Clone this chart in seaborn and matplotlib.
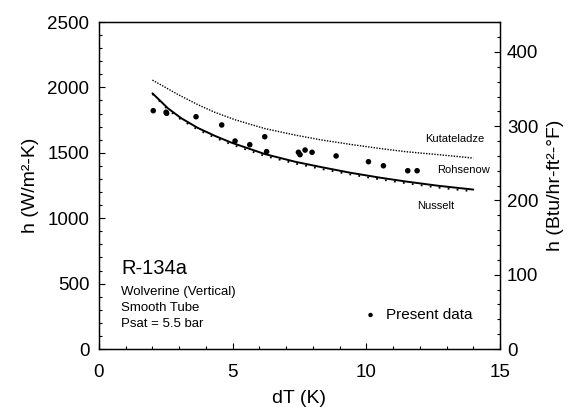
import numpy as np
import pandas as pd
import matplotlib
matplotlib.use("Agg")
import matplotlib.pyplot as plt
from matplotlib.ticker import MultipleLocator
import seaborn as sns

# measured data, dT (K) vs h (W/m2-K)
data_dT = [2.03, 2.51, 2.53, 3.63, 4.59, 5.09, 5.64, 6.20, 6.27, 7.46, 7.52, 7.71,
           7.97, 8.87, 10.08, 10.64, 11.55, 11.90]
data_h = [1822, 1810, 1802, 1776, 1713, 1590, 1562, 1623, 1509, 1504, 1486, 1521,
          1504, 1476, 1432, 1401, 1363, 1363]

# correlations
kut_dT = [2.0, 2.96, 3.70, 4.33, 5.1, 6.21, 7.33, 8.33, 9.39, 10.51, 11.5, 12.69, 14.0]
kut_h = [2056, 1945, 1868, 1810, 1752, 1685, 1636, 1598, 1565, 1533, 1508, 1486, 1460]
roh_dT = [2.0, 2.58, 3.08, 3.70, 4.33, 4.95, 6.21, 7.33, 8.33, 9.39, 10.51, 11.5, 12.69, 14.0]
roh_h = [1955, 1840, 1764, 1690, 1630, 1578, 1490, 1432, 1390, 1348, 1310, 1280, 1248, 1219]
nus_dT = [2.0, 2.58, 3.08, 3.70, 4.33, 4.95, 6.21, 7.33, 8.33, 9.39, 10.51, 11.5, 12.69, 14.0]
nus_h = [1950, 1830, 1752, 1677, 1617, 1564, 1476, 1418, 1376, 1335, 1297, 1267, 1234, 1205]

W_PER_BTU = 5.678

sns.set_style("ticks")
plt.rcParams['font.family'] = ['Liberation Sans', 'DejaVu Sans']
plt.rcParams['text.color'] = 'black'
plt.rcParams['axes.labelcolor'] = 'black'
plt.rcParams['xtick.color'] = 'black'
plt.rcParams['ytick.color'] = 'black'
plt.rcParams['axes.edgecolor'] = 'black'

fig = plt.figure(figsize=(5.83, 4.07), dpi=100)
ax = fig.add_axes([0.1698, 0.1425, 0.6878, 0.8034])

sns.lineplot(x=kut_dT, y=kut_h, ax=ax, color='black', lw=1.0,
             linestyle=(0, (1, 1)))
sns.lineplot(x=roh_dT, y=roh_h, ax=ax, color='black', lw=1.4)
sns.lineplot(x=nus_dT, y=nus_h, ax=ax, color='black', lw=1.3,
             linestyle=(0, (1, 4)))
sns.scatterplot(x=data_dT, y=data_h, ax=ax, color='black', s=16,
                edgecolor='none', label='Present data')

ax.set_xlim(0, 15)
ax.set_ylim(0, 2500)
ax.xaxis.set_major_locator(MultipleLocator(5))
ax.xaxis.set_minor_locator(MultipleLocator(1))
ax.yaxis.set_major_locator(MultipleLocator(500))
ax.yaxis.set_minor_locator(MultipleLocator(100))
ax.tick_params(which='both', direction='in', labelsize=13.5, width=0.8, pad=7)
ax.tick_params(axis='x', which='both', pad=11)
ax.tick_params(which='major', length=4)
ax.tick_params(which='minor', length=2.5)
for s in ax.spines.values():
    s.set_linewidth(0.9)

ax.set_xlabel('dT (K)', fontsize=14, labelpad=6)
ax.set_ylabel('h (W/m²-K)', fontsize=14, labelpad=6)

ax2 = ax.twinx()
ax2.set_ylim(0, 2500 / W_PER_BTU)
ax2.yaxis.set_major_locator(MultipleLocator(100))
ax2.yaxis.set_minor_locator(MultipleLocator(20))
ax2.tick_params(which='both', direction='in', labelsize=13.5, width=0.8, pad=5)
ax2.tick_params(which='major', length=4)
ax2.tick_params(which='minor', length=2.5)
ax2.set_ylabel('h (Btu/hr-ft²-°F)', fontsize=14, labelpad=6)
for s in ax2.spines.values():
    s.set_linewidth(0.9)

# curve labels
ax.text(0.887, 0.642, 'Kutateladze', transform=ax.transAxes, fontsize=8,
        ha='center', va='center')
ax.text(0.908, 0.547, 'Rohsenow', transform=ax.transAxes, fontsize=8,
        ha='center', va='center')
ax.text(0.840, 0.437, 'Nusselt', transform=ax.transAxes, fontsize=8,
        ha='center', va='center')

ax.text(0.055, 0.247, 'R-134a', transform=ax.transAxes, fontsize=14.5,
        ha='left', va='center')
ax.text(0.055, 0.175, 'Wolverine (Vertical)', transform=ax.transAxes,
        fontsize=9.5, ha='left', va='center')
ax.text(0.055, 0.126, 'Smooth Tube', transform=ax.transAxes, fontsize=9.5,
        ha='left', va='center')
ax.text(0.055, 0.076, 'Psat = 5.5 bar', transform=ax.transAxes, fontsize=9.5,
        ha='left', va='center')

leg = ax.legend(loc='center right', bbox_to_anchor=(0.950, 0.104),
                frameon=False, fontsize=11, handletextpad=0.5,
                markerscale=0.8, borderpad=0, handlelength=1.0)

fig.savefig('out.png', dpi=100)
